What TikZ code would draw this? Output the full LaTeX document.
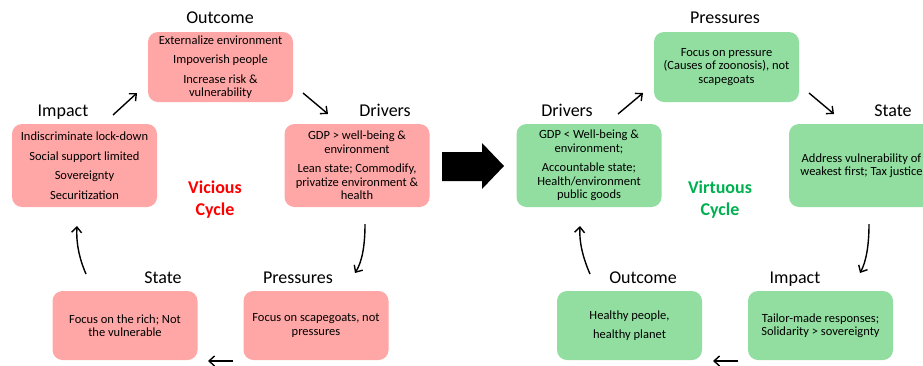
\documentclass[tikz,border=0pt]{standalone}
\usepackage{fontspec}
\setmainfont{Carlito}
\usetikzlibrary{arrows.meta}
\definecolor{badfill}{RGB}{255,166,166}
\definecolor{goodfill}{RGB}{145,222,160}
\definecolor{badtext}{RGB}{255,0,0}
\definecolor{goodtext}{RGB}{0,176,80}
\begin{document}
\begin{tikzpicture}[x=1pt, y=-1pt,
    box/.style={rounded corners=10pt, minimum width=145pt, align=center, inner sep=0pt,
        font=\fontsize{12.5}{13.5}\selectfont},
    bad/.style={box, fill=badfill},
    good/.style={box, fill=goodfill},
    title/.style={anchor=base, font=\fontsize{18}{20}\selectfont},
    cycle/.style={align=center, font=\fontsize{18}{22}\selectfont\bfseries},
    flow/.style={line width=1.4pt, -{Straight Barb[length=5.5pt, width=10pt]}}]
    \useasboundingbox (0,0) rectangle (923,365);
    \clip (0,0) rectangle (923,365);
    % vicious cycle
    \node[bad, minimum height=70pt] (vout) at (220.5,67) {Externalize environment\\[6pt]Impoverish people\\[6pt]Increase risk \&\\vulnerability};
    \node[bad, minimum height=83pt] (vimp) at (84.5,165.5) {Indiscriminate lock-down\\[6pt]Social support limited\\[6pt]Sovereignty\\[6pt]Securitization};
    \node[bad, minimum height=83pt] (vdri) at (357,165.5) {GDP > well-being \&\\environment\\[6pt]Lean state; Commodify,\\privatize environment \&\\health};
    \node[bad, minimum height=69pt] (vsta) at (125,325.5) {Focus on the rich; Not\\the vulnerable};
    \node[bad, minimum height=69pt] (vpre) at (316,325.5) {Focus on scapegoats, not\\pressures};
    \node[title] (voutt) at (220,23) {Outcome};
    \node[title] (vimpt) at (63,116) {Impact};
    \node[title] (vdrit) at (385,116) {Drivers};
    \node[title] (vstat) at (163,283) {State};
    \node[title] (vpret) at (298,283) {Pressures};
    \node[cycle, text=badtext] (vcyc) at (215,199.5) {Vicious\\Cycle};
    % virtuous cycle
    \node[good, minimum height=70pt] (gpre) at (726.5,67) {Focus on pressure\\(Causes of zoonosis), not\\scapegoats};
    \node[good, minimum height=83pt] (gdri) at (589,165.5) {GDP < Well-being \&\\environment;\\[6pt]Accountable state;\\Health/environment\\public goods};
    \node[good, minimum height=83pt] (gsta) at (861.5,165.5) {Address vulnerability of\\weakest first; Tax justice};
    \node[good, minimum height=69pt] (gout) at (629.5,325.5) {Healthy people,\\[6pt]healthy planet};
    \node[good, minimum height=69pt] (gimp) at (820.5,325.5) {Tailor-made responses;\\Solidarity > sovereignty};
    \node[title] (gpret) at (725,23) {Pressures};
    \node[title] (gdrit) at (567,116) {Drivers};
    \node[title] (gstat) at (893,116) {State};
    \node[title] (goutt) at (643,283) {Outcome};
    \node[title] (gimpt) at (795,283) {Impact};
    \node[cycle, text=goodtext] (gcyc) at (720,199.5) {Virtuous\\Cycle};
    % arrow ends
    \coordinate (v1a) at (113,115); \coordinate (v1b) at (137,93);
    \coordinate (v2a) at (303,93);  \coordinate (v2b) at (328,114);
    \coordinate (v3a) at (365,224); \coordinate (v3b) at (355,273);
    \coordinate (v4a) at (233,361); \coordinate (v4b) at (208,361);
    \coordinate (v5a) at (86,274);  \coordinate (v5b) at (77,226);
    \coordinate (g1a) at (618,114); \coordinate (g1b) at (643,93);
    \coordinate (g2a) at (809,93);  \coordinate (g2b) at (834,114);
    \coordinate (g3a) at (869,224); \coordinate (g3b) at (860,273);
    \coordinate (g4a) at (738,361); \coordinate (g4b) at (713,361);
    \coordinate (g5a) at (590,274); \coordinate (g5b) at (580,226);
    \draw[flow] (v1a) -- (v1b);
    \draw[flow] (v2a) -- (v2b);
    \draw[flow] (v3a) .. controls (365,246) and (362,262) .. (v3b);
    \draw[flow] (v4a) -- (v4b);
    \draw[flow] (v5a) .. controls (79,258) and (76,242) .. (v5b);
    \draw[flow] (g1a) -- (g1b);
    \draw[flow] (g2a) -- (g2b);
    \draw[flow] (g3a) .. controls (869,246) and (866,262) .. (g3b);
    \draw[flow] (g4a) -- (g4b);
    \draw[flow] (g5a) .. controls (583,258) and (579,242) .. (g5b);
    % big arrow
    \fill (442,152) -- (482,152) -- (482,143) -- (504,166) -- (482,189) -- (482,181) -- (442,181) -- cycle;
\end{tikzpicture}
\end{document}
